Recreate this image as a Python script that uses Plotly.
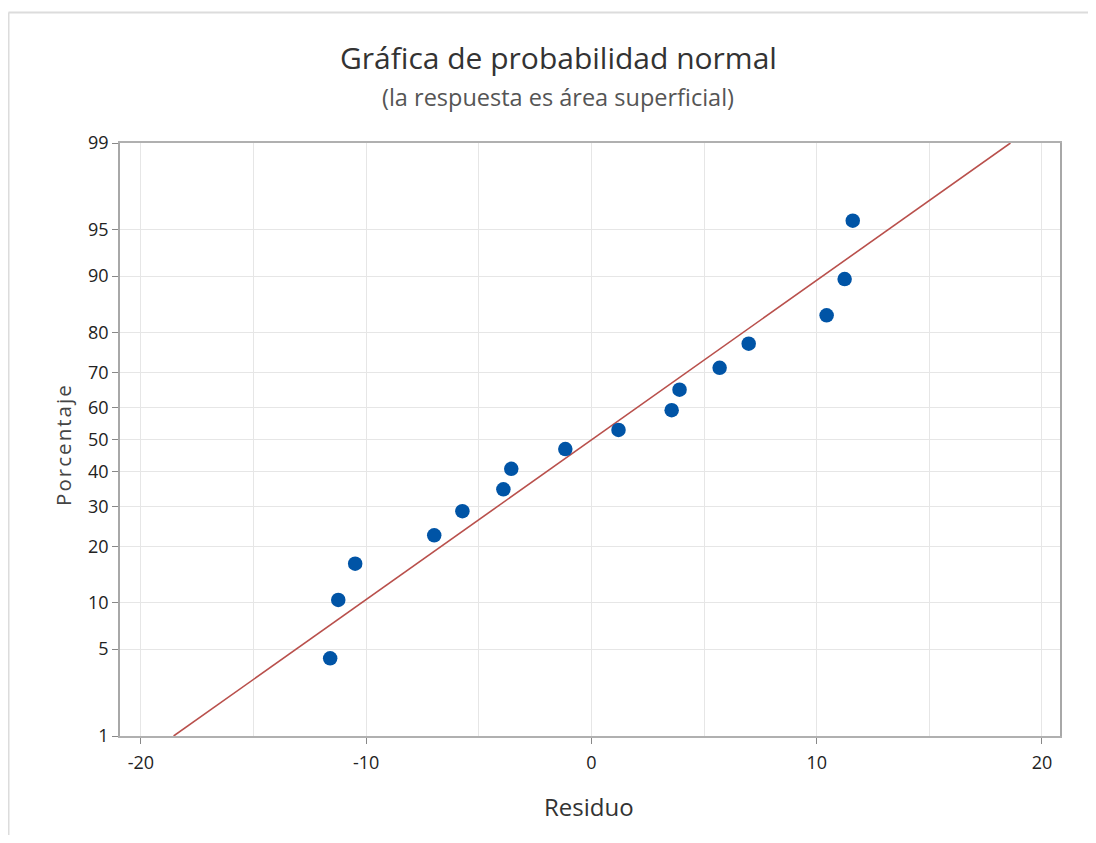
import plotly.graph_objects as go
from statistics import NormalDist

# Data
residuals = [-11.6, -11.24, -10.49, -6.98, -5.73, -3.91, -3.56, -1.16,
             1.2, 3.56, 3.91, 5.69, 6.98, 10.44, 11.24, 11.6]
percent = [4.3, 10.4, 16.5, 22.6, 28.7, 34.8, 40.9, 47.0,
           53.0, 59.1, 65.2, 71.3, 77.4, 83.5, 89.6, 95.7]
line_x = [-18.55, 18.6]
line_p = [1, 99]
y_ticks = [1, 5, 10, 20, 30, 40, 50, 60, 70, 80, 90, 95, 99]
x_ticks = [-20, -10, 0, 10, 20]

nd = NormalDist()
z = lambda p: nd.inv_cdf(p / 100.0)

OFF = 8  # page body margin
W, H = 1080, 827
L, T = 120 - OFF, 143 - OFF
pw, ph = 940, 593
R = W - L - pw
B = H - T - ph

def px(xs):  # screen x -> paper
    return (xs - OFF - L) / pw

def py(ys):  # screen y -> paper
    return (T + ph - (ys - OFF)) / ph

font = "Open Sans, Noto Sans, sans-serif"

fig = go.Figure()
fig.add_trace(go.Scatter(x=line_x, y=[z(p) for p in line_p], mode="lines",
                         line=dict(color="#b9504c", width=1.6),
                         hoverinfo="skip", showlegend=False))
fig.add_trace(go.Scatter(x=residuals, y=[z(p) for p in percent], mode="markers",
                         marker=dict(color="#0054a6", size=14.5),
                         customdata=percent,
                         hovertemplate="%{x}, %{customdata}%<extra></extra>",
                         showlegend=False))

fig.update_layout(
    width=W, height=H,
    margin=dict(l=L, r=R, t=T, b=B),
    paper_bgcolor="white", plot_bgcolor="white",
    font=dict(family=font, color="#333333"),
    xaxis=dict(range=[-20.93, 20.8], tickvals=x_ticks, ticktext=[str(v) for v in x_ticks],
               showgrid=True, gridcolor="#e6e6e6", gridwidth=1,
               minor=dict(dtick=5, tick0=0, showgrid=True, gridcolor="#e6e6e6", ticks=""),
               showline=True, linecolor="#b0b0b0", linewidth=1.5, mirror=True,
               ticks="outside", ticklen=6, tickcolor="#888888", ticklabelstandoff=4,
               tickfont=dict(size=18, color="#222222"), zeroline=False),
    yaxis=dict(range=[z(1), z(99)], tickvals=[z(v) for v in y_ticks],
               ticktext=[str(v) for v in y_ticks],
               showgrid=True, gridcolor="#e6e6e6", gridwidth=1,
               showline=True, linecolor="#a8a8a8", linewidth=1.5, mirror=True,
               ticks="outside", ticklen=6, tickcolor="#888888",
               tickfont=dict(size=18, color="#222222"), zeroline=False),
    annotations=[
        dict(text="Gráfica de probabilidad normal", xref="paper", yref="paper",
             x=px(558), y=py(57), xanchor="center", yanchor="middle", showarrow=False,
             font=dict(size=30, color="#333333", family=font)),
        dict(text="(la respuesta es área superficial)", xref="paper", yref="paper",
             x=px(558), y=py(97), xanchor="center", yanchor="middle", showarrow=False,
             font=dict(size=23.5, color="#555555", family=font)),
        dict(text="Residuo", xref="paper", yref="paper",
             x=px(589), y=py(806), xanchor="center", yanchor="middle", showarrow=False,
             font=dict(size=24, color="#333333", family=font)),
        dict(text="P o r c e n t a j e".replace(" ", "\u200a"), xref="paper", yref="paper",
             x=px(63), y=py(446), xanchor="center", yanchor="middle", showarrow=False,
             textangle=-90, font=dict(size=20.5, color="#444444", family=font)),
    ],
    shapes=[
        dict(type="line", xref="paper", yref="paper", x0=px(8.5), x1=px(1100),
             y0=py(12.5), y1=py(12.5), line=dict(color="#dcdcdc", width=2)),
        dict(type="line", xref="paper", yref="paper", x0=px(8.5), x1=px(8.5),
             y0=py(12.5), y1=py(850), line=dict(color="#dcdcdc", width=2)),
    ],
)

fig.write_html("out.html")
